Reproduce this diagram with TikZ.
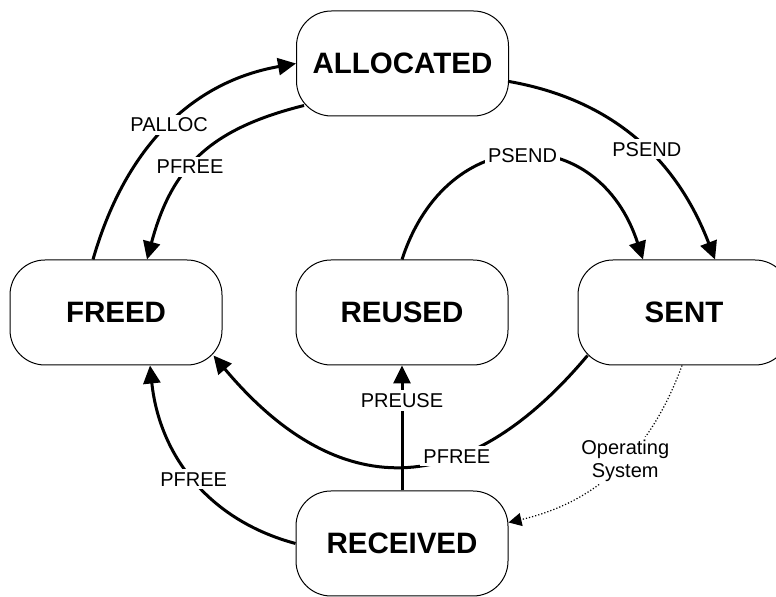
\documentclass[tikz,border=0pt]{standalone}
\usepackage{fontspec}
\setmainfont{Liberation Sans}
\usetikzlibrary{arrows.meta}

\begin{document}
\begin{tikzpicture}[x=0.5pt,y=0.5pt,>={Triangle[length=9pt,width=8.5pt]},every node/.style={font=\fontsize{10}{11.5}\selectfont},state/.style={draw,line width=0.5pt,rounded corners=17.5pt,minimum width=106pt,minimum height=52.5pt,font=\fontsize{14.75}{17}\selectfont\bfseries},trans/.style={->,line width=1.5pt},lbl/.style={fill=white,inner sep=1.5pt},os/.style={-{Triangle[length=6.5pt,width=6.5pt]},densely dotted,line width=0.6pt}]
\useasboundingbox (0,0) rectangle (776,-597);
\node[state] (alloc) at (402.5,-63.5) {ALLOCATED};
\node[state] (freed) at (116,-312.5) {FREED};\node[state] (reused) at (402,-312.5) {REUSED};\node[state] (sent) at (684,-312.5) {SENT};
\node[state] (recv) at (402,-543.5) {RECEIVED};
\draw[trans] ([xshift=-11.5pt]freed.north) to[out=74,in=190] node[lbl,pos=0.52]{PALLOC} (alloc.west);
\draw[trans] ([xshift=4pt,yshift=5.5pt]alloc.south west) to[out=194,in=75,looseness=1.12] node[lbl,pos=0.57]{PFREE} ([xshift=15.5pt]freed.north);
\draw[trans] ([yshift=-9pt]alloc.east) to[out=-10,in=111] node[lbl,pos=0.55]{PSEND} ([xshift=15.5pt]sent.north);
\draw[trans] (reused.north) to[out=72,in=108,looseness=1.55] node[lbl]{PSEND} ([xshift=-20.5pt]sent.north);
\draw[trans] ([xshift=5pt,yshift=5pt]sent.south west) to[out=230,in=-50,looseness=1.32] node[lbl,pos=0.35]{PFREE} ([xshift=-4.5pt,yshift=5pt]freed.south east);
\draw[trans] (recv.north) -- node[lbl,pos=0.72]{PREUSE} (reused.south);
\draw[trans] (recv.west) to[out=165,in=-84] node[lbl]{PFREE} ([xshift=17pt]freed.south);
\draw[os] ([xshift=-1pt]sent.south) to[out=250,in=13] node[lbl,align=center,pos=0.45]{Operating\\System} ([yshift=10.5pt]recv.east);
\end{tikzpicture}
\end{document}
